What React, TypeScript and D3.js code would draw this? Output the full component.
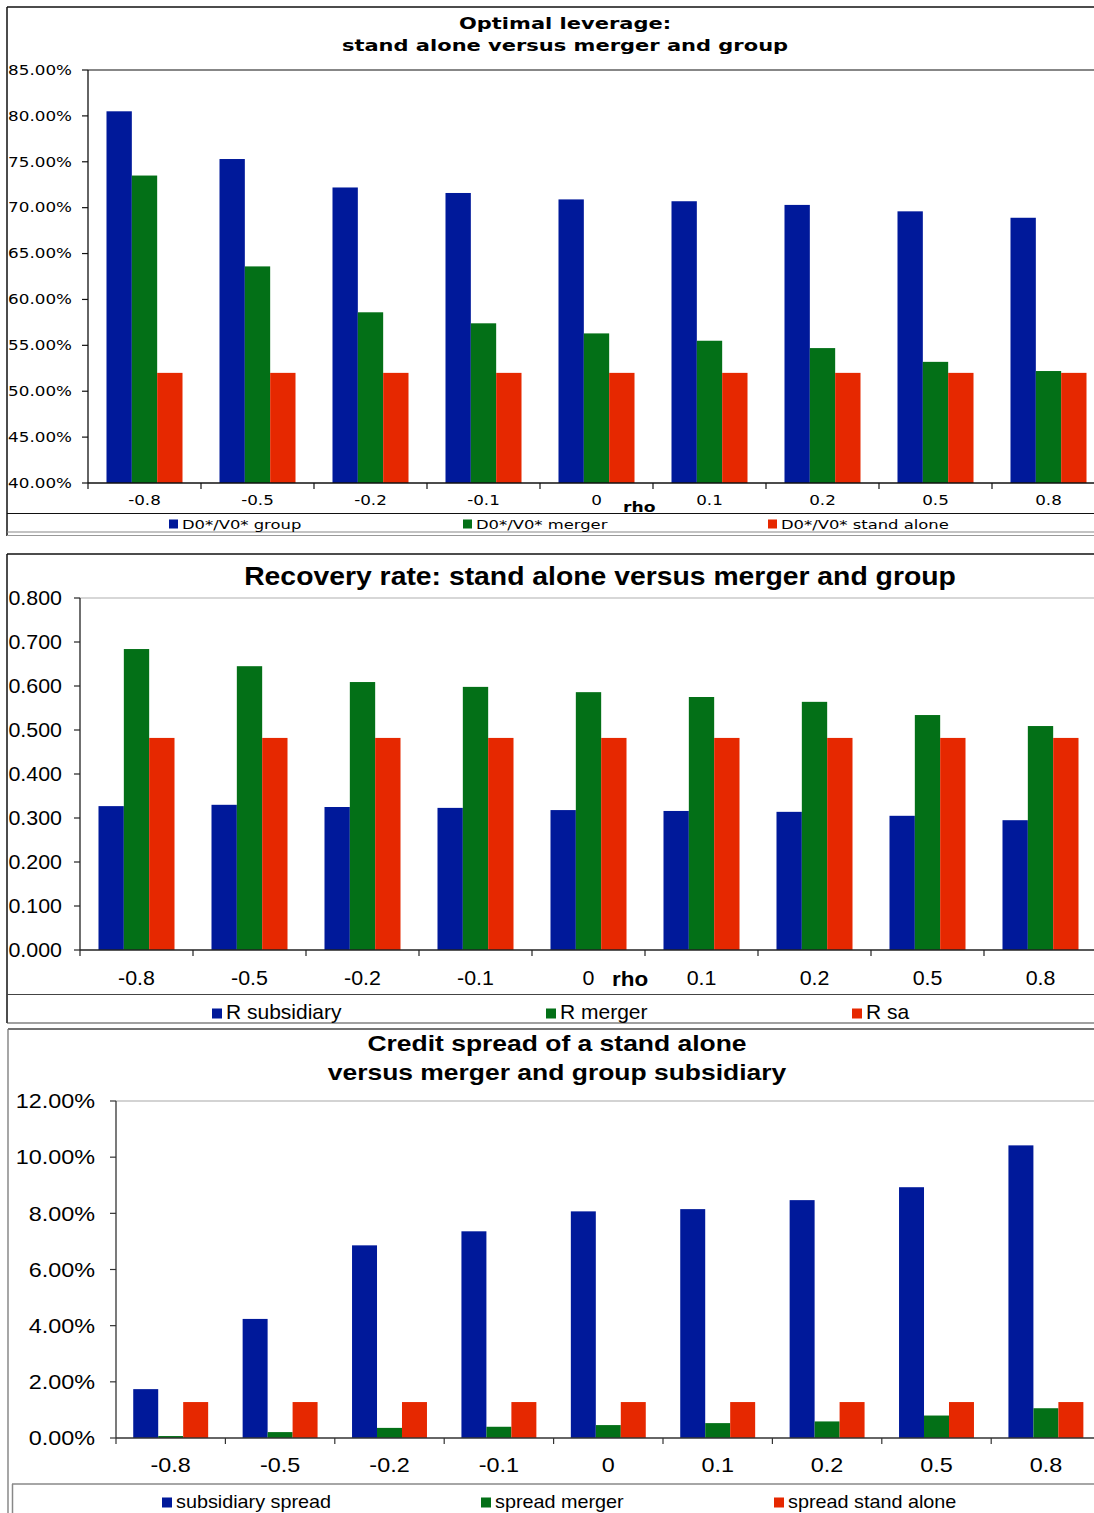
import React from "react";
import * as d3 from "d3";

const RHO = ["-0.8", "-0.5", "-0.2", "-0.1", "0", "0.1", "0.2", "0.5", "0.8"];

const leverageGroup = [80.5, 75.3, 72.2, 71.6, 70.9, 70.7, 70.3, 69.6, 68.9];
const leverageMerger = [73.5, 63.6, 58.6, 57.4, 56.3, 55.5, 54.7, 53.2, 52.2];
const leverageStandAlone = [52.0, 52.0, 52.0, 52.0, 52.0, 52.0, 52.0, 52.0, 52.0];
const leverageTicks = [40, 45, 50, 55, 60, 65, 70, 75, 80, 85];
const leverageLegend = ["D0*/V0* group", "D0*/V0* merger", "D0*/V0* stand alone"];

const recoverySubsidiary = [0.327, 0.33, 0.325, 0.323, 0.318, 0.316, 0.314, 0.305, 0.295];
const recoveryMerger = [0.684, 0.645, 0.609, 0.598, 0.586, 0.575, 0.564, 0.534, 0.509];
const recoverySa = [0.482, 0.482, 0.482, 0.482, 0.482, 0.482, 0.482, 0.482, 0.482];
const recoveryTicks = [0, 0.1, 0.2, 0.3, 0.4, 0.5, 0.6, 0.7, 0.8];
const recoveryLegend = ["R subsidiary", "R merger", "R sa"];

const spreadSubsidiary = [1.74, 4.24, 6.86, 7.36, 8.07, 8.15, 8.47, 8.93, 10.42];
const spreadMerger = [0.07, 0.21, 0.36, 0.4, 0.46, 0.53, 0.59, 0.8, 1.06];
const spreadStandAlone = [1.28, 1.28, 1.28, 1.28, 1.28, 1.28, 1.28, 1.28, 1.28];
const spreadTicks = [0, 2, 4, 6, 8, 10, 12];
const spreadLegend = ["subsidiary spread", "spread merger", "spread stand alone"];

const COLORS = ["#00199a", "#037017", "#e62800"];

type Cfg = {
  series: number[][];
  legend: string[];
  x0: number;
  x1: number;
  yTop: number;
  yBottom: number;
  yDomain: [number, number];
  yTicks: number[];
  yFmt: (v: number) => string;
  padOuter: number;
  font: string;
  fs: number;
  sx: number;
  yLabelX: number;
  tickLabelY: number;
  rho: { x: number; y: number; fs: number } | null;
  titles: { text: string; y: number }[];
  titleX: number;
  titleFs: number;
  titleSx: number;
  legendX: number[];
  legendY: number;
  legendFs: number;
  legendSx: number;
  legendSq: number;
  topGridColor: string;
  axisColor: string;
};

function T({ x, y, sx, children, ...rest }: any) {
  return (
    <text transform={`translate(${x},${y}) scale(${sx},1)`} {...rest}>
      {children}
    </text>
  );
}

function BarChart({ c }: { c: Cfg }) {
  const x = d3.scaleBand<string>().domain(RHO).range([c.x0, c.x1]).padding(0);
  const inner = d3
    .scaleBand<number>()
    .domain([0, 1, 2])
    .range([0, x.bandwidth()])
    .paddingInner(0)
    .paddingOuter(c.padOuter);
  const y = d3.scaleLinear().domain(c.yDomain).range([c.yBottom, c.yTop]);
  const boundaries = RHO.map((r) => x(r)!).concat([c.x1]);
  return (
    <g fontFamily={c.font}>
      {c.titles.map((t, i) => (
        <T key={i} x={c.titleX} y={t.y} sx={c.titleSx} textAnchor="middle" fontWeight="bold" fontSize={c.titleFs}>
          {t.text}
        </T>
      ))}
      <line x1={c.x0} x2={1094} y1={c.yTop} y2={c.yTop} stroke={c.topGridColor} strokeWidth={1.2} />
      {c.series.map((s, si) =>
        s.map((v, i) => (
          <rect
            key={`${si}-${i}`}
            x={x(RHO[i])! + inner(si)!}
            width={inner.bandwidth()}
            y={y(v)}
            height={c.yBottom - y(v)}
            fill={COLORS[si]}
          />
        ))
      )}
      <line x1={c.x0} x2={c.x0} y1={c.yTop} y2={c.yBottom} stroke={c.axisColor} strokeWidth={1.3} />
      <line x1={c.x0} x2={1094} y1={c.yBottom} y2={c.yBottom} stroke={c.axisColor} strokeWidth={1.3} />
      {c.yTicks.map((t) => (
        <g key={t}>
          <line x1={c.x0 - 6} x2={c.x0} y1={y(t)} y2={y(t)} stroke={c.axisColor} strokeWidth={1.2} />
          <T x={c.yLabelX} y={y(t)} sx={c.sx} dy="0.36em" textAnchor="end" fontSize={c.fs}>
            {c.yFmt(t)}
          </T>
        </g>
      ))}
      {boundaries.map((b, i) => (
        <line key={i} x1={b} x2={b} y1={c.yBottom} y2={c.yBottom + 6} stroke={c.axisColor} strokeWidth={1.2} />
      ))}
      {RHO.map((r) => (
        <T key={r} x={x(r)! + x.bandwidth() / 2} y={c.tickLabelY} sx={c.sx} textAnchor="middle" fontSize={c.fs}>
          {r}
        </T>
      ))}
      {c.rho && (
        <T x={c.rho.x} y={c.rho.y} sx={c.sx} fontWeight="bold" fontSize={c.rho.fs}>
          rho
        </T>
      )}
      {c.legend.map((l, i) => (
        <g key={l}>
          <rect
            x={c.legendX[i] - c.legendSq - 4}
            y={c.legendY - c.legendSq - 0.5}
            width={c.legendSq}
            height={c.legendSq}
            fill={COLORS[i]}
          />
          <T x={c.legendX[i]} y={c.legendY} sx={c.legendSx} fontSize={c.legendFs}>
            {l}
          </T>
        </g>
      ))}
    </g>
  );
}

const pct2 = (v: number) => `${v.toFixed(2)}%`;

const chart1: Cfg = {
  series: [leverageGroup, leverageMerger, leverageStandAlone],
  legend: leverageLegend,
  x0: 88,
  x1: 88 + 9 * 113,
  yTop: 70,
  yBottom: 483,
  yDomain: [40, 85],
  yTicks: leverageTicks,
  yFmt: pct2,
  padOuter: 0.73,
  font: "DejaVu Sans, Verdana, sans-serif",
  fs: 13.2,
  sx: 1.27,
  yLabelX: 72,
  tickLabelY: 505,
  rho: { x: 623, y: 512, fs: 13.5 },
  titles: [
    { text: "Optimal leverage:", y: 29 },
    { text: "stand alone versus merger and group", y: 51 },
  ],
  titleX: 565,
  titleFs: 16.4,
  titleSx: 1.28,
  legendX: [182, 476, 781],
  legendY: 529,
  legendFs: 12.9,
  legendSx: 1.27,
  legendSq: 9,
  topGridColor: "#111",
  axisColor: "#111",
};

const chart2: Cfg = {
  series: [recoverySubsidiary, recoveryMerger, recoverySa],
  legend: recoveryLegend,
  x0: 80,
  x1: 80 + 9 * 113,
  yTop: 598,
  yBottom: 950,
  yDomain: [0, 0.8],
  yTicks: recoveryTicks,
  yFmt: (v) => v.toFixed(3),
  padOuter: 0.73,
  font: "Liberation Sans, Arial, sans-serif",
  fs: 20,
  sx: 1.07,
  yLabelX: 62,
  tickLabelY: 985,
  rho: { x: 612, y: 986, fs: 21 },
  titles: [{ text: "Recovery rate: stand alone versus merger and group", y: 585 }],
  titleX: 600,
  titleFs: 26,
  titleSx: 1.09,
  legendX: [226, 560, 866],
  legendY: 1019,
  legendFs: 20,
  legendSx: 1.05,
  legendSq: 10,
  topGridColor: "#b0b0b0",
  axisColor: "#222",
};

const chart3: Cfg = {
  series: [spreadSubsidiary, spreadMerger, spreadStandAlone],
  legend: spreadLegend,
  x0: 116,
  x1: 116 + 9 * 109.4,
  yTop: 1101,
  yBottom: 1438,
  yDomain: [0, 12],
  yTicks: spreadTicks,
  yFmt: pct2,
  padOuter: 0.69,
  font: "Liberation Sans, Arial, sans-serif",
  fs: 20,
  sx: 1.17,
  yLabelX: 95,
  tickLabelY: 1472,
  rho: null,
  titles: [
    { text: "Credit spread of a stand alone", y: 1051 },
    { text: "versus merger and group subsidiary", y: 1080 },
  ],
  titleX: 557,
  titleFs: 22.8,
  titleSx: 1.16,
  legendX: [176, 495, 788],
  legendY: 1508,
  legendFs: 18,
  legendSx: 1.1,
  legendSq: 10,
  topGridColor: "#a8a8a8",
  axisColor: "#333",
};

export default function App() {
  return (
    <svg
      width={1094}
      height={1513}
      style={{ position: "absolute", left: 0, top: 0, background: "#fff" }}
    >
      <rect x={0} y={0} width={1094} height={1513} fill="#fff" />
      {/* frame chart 1 */}
      <line x1={7} x2={1094} y1={7} y2={7} stroke="#111" strokeWidth={1.5} />
      <line x1={7} x2={7} y1={7} y2={536} stroke="#111" strokeWidth={1.5} />
      <line x1={7} x2={1094} y1={513.5} y2={513.5} stroke="#111" strokeWidth={1.2} />
      <line x1={7} x2={1094} y1={532} y2={532} stroke="#888" strokeWidth={1.2} />
      <line x1={7} x2={1094} y1={535.5} y2={535.5} stroke="#999" strokeWidth={1.2} />
      {/* frame chart 2 */}
      <line x1={7} x2={1094} y1={554} y2={554} stroke="#111" strokeWidth={1.5} />
      <line x1={7} x2={7} y1={554} y2={1023} stroke="#111" strokeWidth={1.5} />
      <line x1={7} x2={1094} y1={994.5} y2={994.5} stroke="#444" strokeWidth={1.2} />
      <line x1={7} x2={1094} y1={1023} y2={1023} stroke="#444" strokeWidth={1.2} />
      {/* frame chart 3 */}
      <line x1={8} x2={1094} y1={1029} y2={1029} stroke="#444" strokeWidth={1.3} />
      <line x1={8} x2={8} y1={1029} y2={1513} stroke="#777" strokeWidth={1.3} />
      <line x1={12} x2={1094} y1={1484} y2={1484} stroke="#888" strokeWidth={1.5} />
      <line x1={12.5} x2={12.5} y1={1484} y2={1513} stroke="#888" strokeWidth={1.5} />
      <BarChart c={chart1} />
      <BarChart c={chart2} />
      <BarChart c={chart3} />
    </svg>
  );
}
